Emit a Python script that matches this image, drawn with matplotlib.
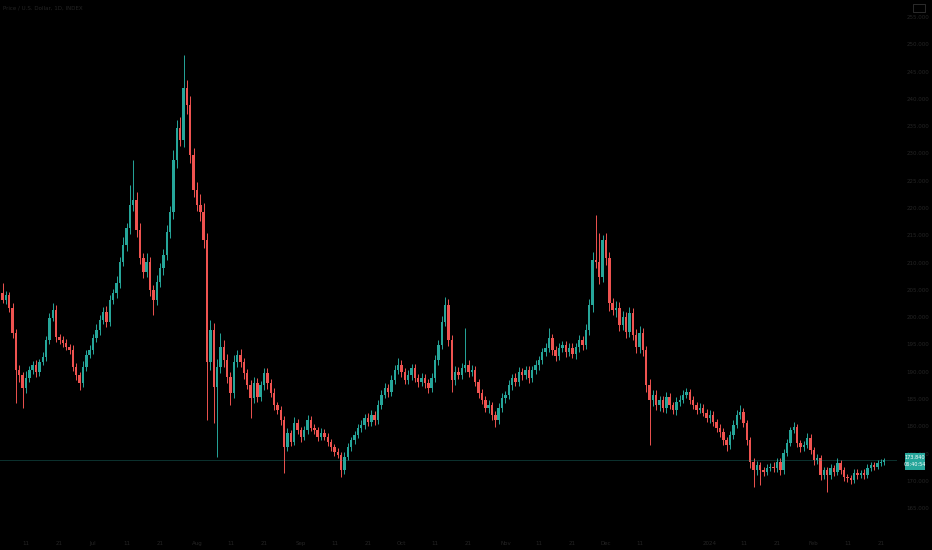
import numpy as np
import pandas as pd
import matplotlib
matplotlib.use('Agg')
import matplotlib.pyplot as plt
import matplotlib.dates as mdates
from matplotlib.patches import Rectangle

# daily candles (open = previous close)
first_open = 204.4
closes = [
    203.2, 204.1, 201.7, 197.1, 190.3, 189.4, 187.0, 188.9, 190.3, 191.3,
    190.0, 191.8, 192.7, 195.8, 199.9, 201.3, 196.4, 195.8, 195.3, 194.5,
    194.0, 190.9, 189.4, 188.0, 190.9, 193.1, 194.0, 196.2, 197.7, 199.5,
    201.0, 199.1, 203.2, 204.4, 206.3, 210.1, 213.2, 216.3, 220.6, 221.5,
    216.0, 210.8, 208.3, 210.1, 205.0, 203.2, 206.5, 209.0, 211.4, 215.6,
    219.3, 228.8, 234.7, 232.5, 242.0, 238.9, 229.7, 223.3, 220.6, 219.3,
    214.1, 191.8, 197.7, 187.2, 190.9, 194.5, 192.2, 189.1, 186.1, 191.8,
    193.1, 191.8, 189.8, 187.6, 185.2, 188.0, 185.4, 187.6, 189.8, 188.0,
    186.1, 183.9, 183.0, 181.2, 176.2, 178.8, 177.2, 180.6, 179.3, 178.1,
    179.3, 181.2, 179.7, 179.3, 178.1, 178.8, 178.1, 177.2, 176.2,
    175.3, 174.8, 172.0, 174.4, 176.2, 177.5, 178.4, 179.7, 180.3, 181.5,
    180.8, 182.1, 181.2, 183.9, 185.8, 187.0, 186.3, 188.5, 190.3, 191.3,
    190.0, 188.5, 189.4, 190.7, 188.9, 188.1, 188.9, 188.0, 187.0,
    188.9, 192.2, 194.9, 199.1, 202.2, 195.8, 188.5, 190.0, 189.4, 190.7,
    191.3, 190.0, 190.3, 188.1, 186.1, 184.8, 183.4, 183.9, 182.1, 181.2,
    183.4, 185.2, 185.8, 187.6, 188.9, 188.1, 190.0, 189.4, 190.3,
    188.9, 190.3, 191.3, 192.2, 193.6, 194.4, 196.2, 194.0, 192.9, 194.4,
    194.9, 193.6, 194.4, 193.3, 194.5, 195.8, 194.9, 197.7, 202.2, 210.5,
    210.1, 207.4, 214.1, 210.8, 202.6, 201.3, 201.7, 198.6, 200.0, 197.3,
    200.8, 196.8, 194.5, 197.1, 194.0, 187.6, 184.8, 185.8, 183.9, 184.8,
    183.4, 185.4, 183.9, 183.0, 184.5, 184.8, 185.8, 186.3, 184.8,
    183.9, 183.0, 183.4, 182.5, 181.5, 182.1, 180.8, 179.7, 179.0, 177.5,
    176.6, 178.4, 180.3, 182.1, 182.6, 180.6, 177.5, 173.5, 172.0, 172.9,
    172.0, 171.7, 172.4, 172.6, 172.4, 173.5, 172.0, 175.1, 177.0, 179.3,
    179.9, 177.0, 176.2, 176.6, 177.9, 175.7, 173.8, 174.2, 171.1, 172.0,
    171.1, 172.4, 171.7, 173.3, 172.0, 170.7, 170.5, 170.2, 171.5, 171.1,
    171.5, 171.1, 172.4, 172.9, 172.6, 173.3, 173.5, 173.84,
]
# wick length above / below the body
wick_up = [
    1.9, 0.6, 0.5, 0.8, 0.7, 0.9, 0.6, 1.2, 0.8, 0.7,
    0.9, 0.6, 1.0, 0.7, 0.8, 1.3, 0.9, 0.6, 0.8, 0.7,
    0.6, 0.9, 0.7, 0.5, 1.0, 0.8, 0.9, 0.7, 1.1, 0.8,
    0.9, 1.0, 0.8, 0.7, 1.2, 0.9, 1.4, 1.0, 3.6, 7.3,
    1.5, 1.2, 0.9, 1.6, 1.0, 0.8, 1.2, 0.9, 1.1, 1.3,
    1.0, 1.8, 1.5, 2.0, 6.0, 1.4, 1.6, 1.2, 1.5, 2.0,
    1.6, 1.4, 1.8, 1.2, 1.5, 2.6, 1.3, 1.0, 0.9, 1.2,
    0.9, 1.1, 0.8, 0.7, 0.9, 1.0, 0.8, 0.7, 0.9, 0.8,
    0.7, 0.9, 0.6, 0.8, 0.7, 0.9, 0.6, 1.1, 0.7, 0.6,
    0.8, 0.9, 0.6, 0.8, 0.6, 0.9, 0.7, 0.6, 0.5,
    0.6, 0.7, 0.5, 0.8, 0.7, 0.6, 0.8, 0.7, 0.9, 0.8,
    0.9, 0.8, 0.7, 0.9, 0.8, 1.0, 0.7, 0.9, 1.0, 1.3,
    0.8, 0.7, 0.9, 0.8, 0.7, 0.6, 0.8, 0.7, 0.6,
    0.8, 0.9, 1.0, 1.1, 1.5, 1.2, 0.9, 1.0, 0.8, 0.9,
    6.7, 0.8, 0.9, 0.7, 0.6, 0.8, 0.7, 0.9, 0.6, 0.7,
    0.8, 0.9, 0.7, 0.8, 0.7, 0.8, 0.9, 0.7, 0.8,
    0.7, 0.8, 0.9, 0.7, 0.8, 0.9, 1.8, 0.8, 0.7, 0.9,
    0.8, 0.7, 0.9, 0.8, 0.7, 0.9, 0.8, 1.0, 1.2, 1.5,
    8.2, 5.3, 1.0, 1.4, 1.1, 0.9, 1.3, 1.0, 1.2, 0.9,
    1.1, 0.9, 1.0, 1.2, 0.9, 0.8, 1.0, 0.9, 0.8, 0.7,
    0.8, 0.9, 0.7, 0.6, 0.8, 0.9, 0.8, 0.7, 0.6,
    0.7, 0.6, 0.8, 0.7, 0.6, 0.8, 0.7, 0.6, 0.7, 0.6,
    0.5, 0.7, 0.8, 0.9, 1.3, 0.7, 0.6, 0.5, 0.6, 0.7,
    0.6, 0.5, 0.7, 0.6, 0.8, 0.7, 0.6, 0.8, 0.7, 0.6,
    0.9, 0.6, 0.5, 0.7, 0.8, 0.6, 0.5, 0.7, 0.6, 0.5,
    0.6, 0.7, 0.5, 0.8, 0.6, 0.5, 0.6, 0.5, 0.7, 0.6,
    0.5, 0.6, 0.7, 0.6, 0.5, 0.6, 0.5, 0.4,
]
wick_dn = [
    0.6, 0.8, 0.7, 0.9, 6.0, 1.2, 3.6, 0.9, 0.7, 0.8,
    0.9, 0.7, 0.6, 0.8, 0.7, 0.6, 0.9, 0.8, 0.7, 0.6,
    0.8, 0.7, 0.9, 1.3, 0.8, 0.7, 0.6, 0.8, 0.7, 0.9,
    0.8, 1.0, 0.7, 0.8, 0.9, 1.0, 0.8, 1.1, 1.0, 1.2,
    1.4, 1.0, 1.2, 0.9, 1.1, 2.8, 1.0, 0.9, 1.2, 1.0,
    1.1, 1.3, 1.5, 1.2, 1.4, 1.6, 1.5, 1.3, 1.2, 1.6,
    1.4, 10.6, 1.5, 6.6, 12.8, 1.2, 1.4, 1.1, 2.2, 1.0,
    1.0, 0.9, 1.1, 0.8, 3.7, 0.9, 1.0, 0.8, 0.9, 1.1,
    0.8, 0.9, 0.7, 1.0, 4.7, 0.8, 0.9, 0.7, 0.8, 0.9,
    0.7, 0.8, 0.6, 0.7, 0.8, 0.6, 0.7, 0.8, 0.7,
    0.8, 0.7, 1.3, 0.8, 0.6, 0.7, 0.8, 0.6, 0.7, 0.8,
    0.7, 0.8, 0.9, 0.7, 0.8, 0.6, 0.9, 0.7, 0.8, 0.7,
    0.9, 0.8, 0.7, 0.9, 0.8, 0.9, 0.8, 1.0, 0.9,
    0.8, 0.7, 0.9, 0.8, 0.7, 1.0, 2.2, 0.9, 0.8, 0.7,
    0.8, 0.9, 0.7, 0.8, 0.9, 0.7, 0.8, 0.9, 1.0, 1.3,
    0.8, 0.7, 0.9, 0.8, 0.9, 0.8, 0.7, 0.9, 0.8,
    0.9, 0.8, 0.7, 0.9, 0.8, 0.7, 0.8, 0.9, 1.0, 0.8,
    0.7, 0.9, 0.8, 0.7, 0.9, 0.8, 0.9, 0.8, 1.0, 1.2,
    1.1, 1.3, 1.0, 1.2, 1.4, 1.0, 1.2, 1.1, 0.9, 1.2,
    1.0, 0.9, 1.1, 1.0, 1.2, 1.4, 8.2, 1.0, 0.9, 1.1,
    0.8, 0.9, 0.7, 0.8, 0.9, 0.8, 0.6, 0.7, 0.8,
    0.7, 0.8, 0.6, 0.7, 0.8, 0.9, 0.7, 0.8, 0.9, 1.0,
    1.1, 0.8, 0.7, 0.6, 0.7, 0.8, 1.0, 1.2, 3.1, 0.9,
    2.7, 0.8, 0.7, 0.6, 0.8, 0.7, 0.9, 0.7, 0.6, 0.7,
    0.6, 0.8, 0.9, 0.7, 0.6, 0.8, 0.9, 0.7, 1.0, 0.8,
    3.1, 0.7, 0.8, 0.6, 0.7, 0.8, 0.7, 0.7, 0.6, 0.7,
    0.6, 0.7, 0.6, 0.5, 0.6, 0.5, 0.6, 0.5,
]
start_date = '2023-06-04'
last_price = 173.84
countdown = '06:40:54'
title = 'Price / U.S. Dollar, 1D, INDEX'
price_ticks = list(range(165, 256, 5))
xtick_dates = ['2023-06-11', '2023-06-21', '2023-07-01', '2023-07-11', '2023-07-21',
               '2023-08-01', '2023-08-11', '2023-08-21', '2023-09-01', '2023-09-11',
               '2023-09-21', '2023-10-01', '2023-10-11', '2023-10-21', '2023-11-01',
               '2023-11-11', '2023-11-21', '2023-12-01', '2023-12-11', '2024-01-01',
               '2024-01-11', '2024-01-21', '2024-02-01', '2024-02-11', '2024-02-21']
xtick_labels = ['11', '21', 'Jul', '11', '21', 'Aug', '11', '21', 'Sep', '11',
                '21', 'Oct', '11', '21', 'Nov', '11', '21', 'Dec', '11', '2024',
                '11', '21', 'Feb', '11', '21']

UP = '#26a69a'
DOWN = '#ef5350'
BG = '#000000'
TXT = '#252525'

closes = np.array(closes)
opens = np.r_[first_open, closes[:-1]]
highs = np.maximum(opens, closes) + np.array(wick_up)
lows = np.minimum(opens, closes) - np.array(wick_dn)
dates = pd.date_range(start_date, periods=len(closes), freq='D')
x = mdates.date2num(dates)
colors = np.where(closes >= opens, UP, DOWN)

fig = plt.figure(figsize=(9.32, 5.5), dpi=100, facecolor=BG)
ax = fig.add_axes([0, 20 / 550, 897 / 932, 530 / 550])
ax.set_facecolor(BG)

ax.vlines(x, lows, highs, colors=colors, linewidth=0.7)
body = np.maximum(np.abs(closes - opens), 0.15)
ax.bar(x, body, bottom=np.minimum(opens, closes), width=0.72, color=colors, linewidth=0)
ax.axhline(last_price, color=UP, lw=0.7, alpha=0.3)

ax.set_xlim(x[0] - 0.75, x[0] + 266.8)
ax.set_ylim(161.0, 258.1)

ax.yaxis.tick_right()
ax.set_yticks(price_ticks)
ax.set_yticklabels([f'{p:.3f}' for p in price_ticks])
ax.tick_params(axis='y', length=0, pad=7, labelsize=4, labelcolor=TXT)
ax.set_xticks(mdates.date2num(pd.to_datetime(xtick_dates)))
ax.set_xticklabels(xtick_labels)
ax.tick_params(axis='x', length=0, pad=8, labelsize=4, labelcolor=TXT)
for s in ax.spines.values():
    s.set_visible(False)

fig.text(3 / 932, 1 - 8 / 550, title, fontsize=4, color=TXT, va='center')
fig.add_artist(Rectangle((913 / 932, 1 - 12 / 550), 12 / 932, 8 / 550, fill=False,
                         edgecolor='#333333', lw=0.6, transform=fig.transFigure))

# last price tag
py = ax.transData.transform((x[0], last_price))[1] / fig.bbox.height
fig.add_artist(Rectangle((905 / 932, py - 10 / 550), 20 / 932, 17 / 550, facecolor=UP,
                         edgecolor='none', transform=fig.transFigure))
fig.text(915 / 932, py + 2.5 / 550, f'{last_price:.3f}', fontsize=3.6, color='white',
         ha='center', va='center')
fig.text(915 / 932, py - 5 / 550, countdown, fontsize=3.6, color='white',
         ha='center', va='center')

fig.savefig('out.png', dpi=100, facecolor=BG)
